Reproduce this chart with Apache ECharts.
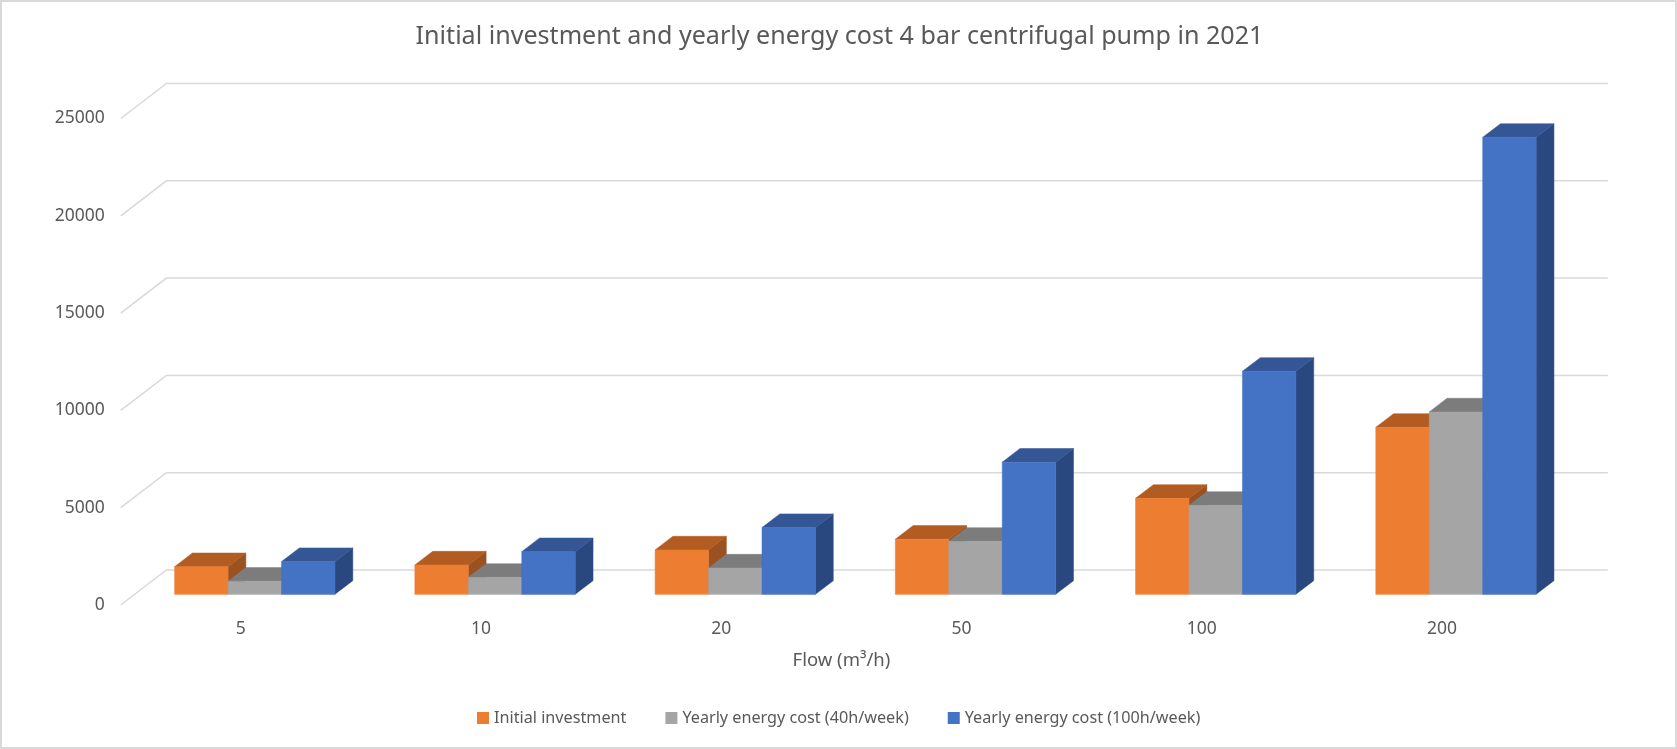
<!DOCTYPE html>
<html>
<head>
<meta charset="utf-8">
<style>html,body{margin:0;padding:0;background:#fff}#c{width:1677px;height:749px}</style>
<script src="https://cdn.jsdelivr.net/npm/echarts@6/dist/echarts.min.js"></script>
</head>
<body>
<div id="c"></div>
<script>
const titleText = 'Initial investment and yearly energy cost 4 bar centrifugal pump in 2021';
const axisTitle = 'Flow (m³/h)';
const categories = ['5', '10', '20', '50', '100', '200'];
const yTicks = [0, 5000, 10000, 15000, 20000, 25000];
const initialInvestment = [1420, 1505, 2280, 2830, 4930, 8580];
const energy40h = [670, 870, 1350, 2720, 4570, 9370];
const energy100h = [1680, 2190, 3430, 6790, 11460, 23480];
const seriesNames = ['Initial investment', 'Yearly energy cost (40h/week)', 'Yearly energy cost (100h/week)'];

const FONT = '"Noto Sans", sans-serif';
const TEXT = '#595959';
const WALL_DX = 45.7, WALL_DY = 35;      // oblique depth of the chart floor
const BAR_SHIFT = 0.306;                 // where the bars stand on the floor
const BAR_DEPTH = 0.39;                  // bar depth as a share of floor depth
const BAR_W = 0.2225;                    // bar width as a share of a band
const palette = [
  {front: '#ED7D31', top: '#B35C22', side: '#9C5120', edge: '#F4A36E'},
  {front: '#A5A5A5', top: '#7C7C7C', side: '#6C6C6C', edge: '#BDBDBD'},
  {front: '#4472C4', top: '#345694', side: '#2A4880', edge: '#6D90D2'}
];

function wallItem(params, api) {
  const p = api.coord([0, api.value(0)]);
  const cs = params.coordSys;
  const x0 = cs.x, y = p[1];
  return {
    type: 'polyline',
    silent: true,
    shape: {points: [[x0, y], [x0 + WALL_DX, y - WALL_DY], [cs.x + cs.width + WALL_DX, y - WALL_DY]]},
    style: {stroke: '#D9D9D9', lineWidth: 1.5, fill: null}
  };
}

function barRenderer(index) {
  const c = palette[index];
  return function (params, api) {
    const band = api.size([1, 0])[0];
    const w = band * BAR_W;
    const sx = WALL_DX * BAR_SHIFT, sy = WALL_DY * BAR_SHIFT;
    const dx = WALL_DX * BAR_DEPTH, dy = WALL_DY * BAR_DEPTH;
    const top = api.coord([api.value(0), api.value(1)]);
    const base = api.coord([api.value(0), 0]);
    const x = top[0] + sx + (index - 1.5) * w;
    const yT = top[1] - sy, yB = base[1] - sy;
    const poly = (pts, fill) => ({type: 'polygon', shape: {points: pts}, style: {fill: fill, stroke: fill, lineWidth: 0.5}});
    return {
      type: 'group',
      children: [
        poly([[x + w, yT], [x + w + dx, yT - dy], [x + w + dx, yB - dy], [x + w, yB]], c.side),
        poly([[x, yT], [x + dx, yT - dy], [x + w + dx, yT - dy], [x + w, yT]], c.top),
        poly([[x, yT], [x + w, yT], [x + w, yB], [x, yB]], c.front),
        {type: 'line', shape: {x1: x, y1: yB, x2: x + w, y2: yB}, style: {stroke: c.edge, lineWidth: 1}}
      ]
    };
  };
}

const allValues = [initialInvestment, energy40h, energy100h];
const barSeries = allValues.map((vals, i) => ({
  type: 'custom',
  name: seriesNames[i],
  coordinateSystem: 'cartesian2d',
  clip: false,
  z: 3,
  renderItem: barRenderer(i),
  encode: {x: 0, y: 1},
  itemStyle: {color: palette[i].front},
  data: vals.map((v, k) => [k, v])
}));

const chart = echarts.init(document.getElementById('c'), null, {renderer: 'canvas'});
chart.setOption({
  animation: false,
  backgroundColor: '#fff',
  textStyle: {fontFamily: FONT},
  title: {
    text: titleText, left: 834.5, top: 19, textAlign: 'center',
    textStyle: {fontFamily: FONT, fontWeight: 'normal', fontSize: 25.1, color: TEXT}
  },
  legend: {
    data: seriesNames, left: 472, top: 705, icon: 'rect',
    itemWidth: 12, itemHeight: 12, itemGap: 39,
    textStyle: {fontFamily: FONT, fontSize: 16.2, color: TEXT}
  },
  grid: {left: 120.7, right: 114.9, top: 118.5, height: 486.5},
  xAxis: {
    type: 'category', data: categories,
    axisLine: {show: false}, axisTick: {show: false}, splitLine: {show: false},
    axisLabel: {color: TEXT, fontSize: 17.5, fontFamily: FONT, margin: 15},
    name: axisTitle, nameLocation: 'middle', nameGap: 46,
    nameTextStyle: {color: TEXT, fontSize: 18.5, fontFamily: FONT}
  },
  yAxis: {
    type: 'value', min: 0, max: 25000, interval: 5000,
    axisLine: {show: false}, axisTick: {show: false}, splitLine: {show: false},
    axisLabel: {color: TEXT, fontSize: 17.5, fontFamily: FONT, margin: 16, formatter: v => String(v)}
  },
  graphic: [{
    type: 'rect', silent: true, z: 100,
    shape: {x: 1, y: 1, width: 1675, height: 747},
    style: {fill: null, stroke: '#D9D9D9', lineWidth: 2}
  }],
  series: [{
    type: 'custom',
    name: 'walls',
    coordinateSystem: 'cartesian2d',
    clip: false,
    z: 1,
    silent: true,
    renderItem: wallItem,
    encode: {y: 0},
    data: yTicks.map(t => [t])
  }].concat(barSeries)
});
</script>
</body>
</html>
